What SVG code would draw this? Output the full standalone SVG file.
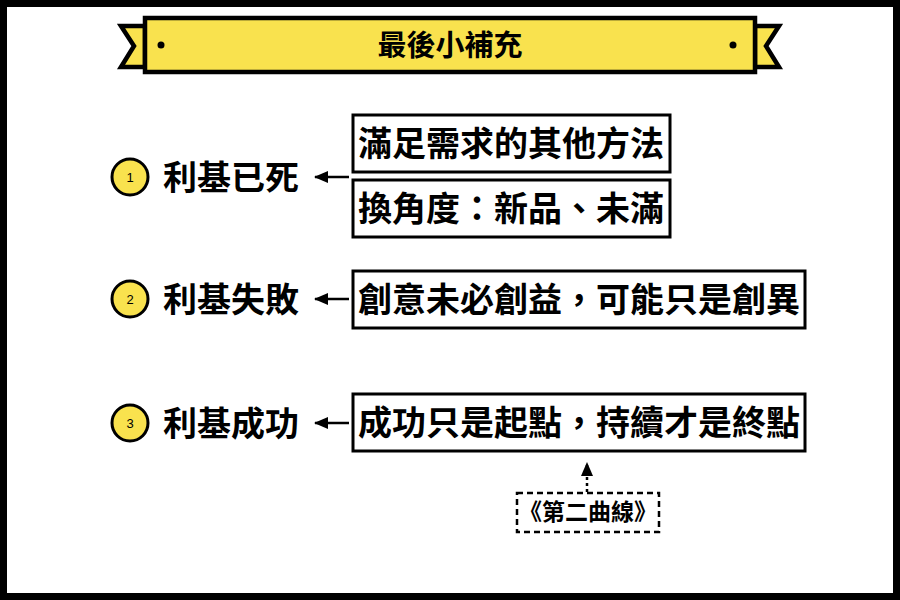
<svg xmlns="http://www.w3.org/2000/svg" width="900" height="600" viewBox="0 0 900 600">
<style>
  .t{font-family:"Noto Sans CJK TC","Noto Sans CJK SC",sans-serif;font-weight:700;fill:#000}
  .box{fill:#fff;stroke:#000;stroke-width:3}
  .num{fill:#f9e24e;stroke:#000;stroke-width:3}
  .yl{fill:#f9e24e;stroke:#000;stroke-width:4.5;stroke-linejoin:miter}
  .conn{stroke:#000;stroke-width:2.5;fill:none}
</style>
<defs>
  <marker id="ah2" viewBox="0 0 14 12" markerWidth="14" markerHeight="12" refX="13" refY="6" orient="auto" markerUnits="userSpaceOnUse">
    <path d="M0,0 L14,6 L0,12 z" fill="#000"/>
  </marker>
</defs>
<rect x="0" y="0" width="900" height="600" fill="#000"/>
<rect x="7" y="7" width="886" height="586" fill="#fff"/>

<g id="banner">
  <path class="yl" d="M145,26 L121,26 L134,46 L121,67 L145,67 Z"/>
  <path class="yl" d="M755,26 L779,26 L766,46 L779,67 L755,67 Z"/>
  <rect class="yl" x="145" y="18" width="610" height="54"/>
  <circle cx="161" cy="45" r="3.5" fill="#000"/>
  <circle cx="733" cy="45" r="3.5" fill="#000"/>
  <text class="t" x="450" y="56" font-size="29" text-anchor="middle">最後小補充</text>
</g>

<g id="connectors">
  <line class="conn" x1="349" y1="177" x2="315" y2="177" marker-end="url(#ah2)"/>
  <line class="conn" x1="349" y1="299" x2="315" y2="299" marker-end="url(#ah2)"/>
  <line class="conn" x1="349" y1="423" x2="315" y2="423" marker-end="url(#ah2)"/>
  <line x1="587" y1="492" x2="587" y2="463" stroke="#000" stroke-width="2.5" stroke-dasharray="3,3" marker-end="url(#ah2)"/>
</g>

<g id="n1">
  <circle class="num" cx="130" cy="177" r="18"/>
  <text x="130" y="182" font-family="Liberation Sans,Arial,sans-serif" font-size="13" text-anchor="middle">1</text>
  <text class="t" x="163" y="190" font-size="34">利基已死</text>
</g>
<g id="n1a">
  <rect class="box" x="353" y="115" width="317" height="57"/>
  <text class="t" x="511" y="156" font-size="34" text-anchor="middle">滿足需求的其他方法</text>
</g>
<g id="n1b">
  <rect class="box" x="353" y="180" width="317" height="57"/>
  <text class="t" x="511" y="221" font-size="34" text-anchor="middle">換角度：新品、未滿</text>
</g>

<g id="n2">
  <circle class="num" cx="130" cy="299" r="18"/>
  <text x="130" y="304" font-family="Liberation Sans,Arial,sans-serif" font-size="13" text-anchor="middle">2</text>
  <text class="t" x="163" y="312" font-size="34">利基失敗</text>
</g>
<g id="n2a">
  <rect class="box" x="353" y="271" width="452" height="57"/>
  <text class="t" x="579" y="312" font-size="34" text-anchor="middle">創意未必創益，可能只是創異</text>
</g>

<g id="n3">
  <circle class="num" cx="130" cy="423" r="18"/>
  <text x="130" y="428" font-family="Liberation Sans,Arial,sans-serif" font-size="13" text-anchor="middle">3</text>
  <text class="t" x="163" y="436" font-size="34">利基成功</text>
</g>
<g id="n3a">
  <rect class="box" x="353" y="394" width="452" height="57"/>
  <text class="t" x="579" y="435" font-size="34" text-anchor="middle">成功只是起點，持續才是終點</text>
</g>

<g id="n4">
  <rect x="517" y="493" width="142" height="39" fill="#fff" stroke="#000" stroke-width="2.5" stroke-dasharray="6,4"/>
  <text class="t" x="588" y="520" font-size="23" text-anchor="middle">《第二曲線》</text>
</g>
</svg>
